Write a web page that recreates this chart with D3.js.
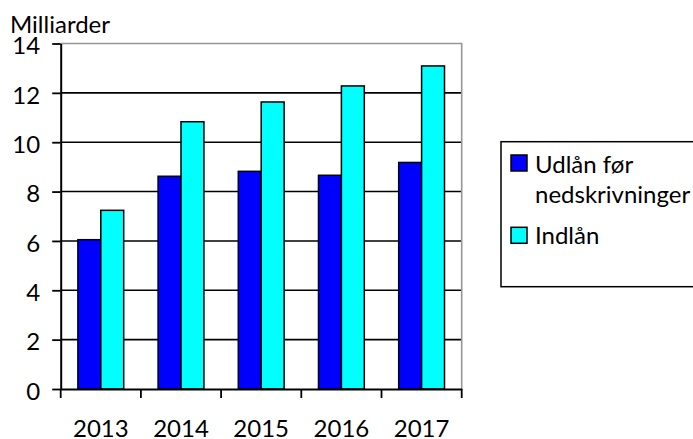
<!DOCTYPE html>
<html><head><meta charset="utf-8">
<script src="https://cdn.jsdelivr.net/npm/d3@7"></script>
<style>html,body{margin:0;padding:0;background:#fff;}svg{display:block;}text{font-family:Lato,"Open Sans",sans-serif;fill:#000;}</style>
</head><body>
<svg id="c" width="693" height="439"></svg>
<script>
const categories = ["2013","2014","2015","2016","2017"];
const udlan = [6.05, 8.62, 8.82, 8.66, 9.18];
const indlan = [7.24, 10.83, 11.63, 12.28, 13.09];
const seriesNames = ["Udlån før nedskrivninger","Indlån"];
const yTicks = [0,2,4,6,8,10,12,14];
const unitLabel = "Milliarder";

const svg = d3.select("#c");
const L = 60.7, R = 461.7, T = 43.5, B = 389;
const fs = 24;
const x = d3.scaleBand().domain(categories).range([L,R]).paddingInner(0).paddingOuter(0);
const y = d3.scaleLinear().domain([0,14]).range([B,T]);
const bw = x.bandwidth()/3.5;
const colors = ["#0000ff","#00ffff"];

// gridlines
svg.append("g").selectAll("line").data(yTicks.filter(d=>d>0&&d<14)).join("line")
  .attr("x1",L).attr("x2",R).attr("y1",d=>y(d)).attr("y2",d=>y(d))
  .attr("stroke","#000").attr("stroke-width",1.6);
// plot border top/right gray
svg.append("path").attr("d",`M${L},${T}H${R}V${B}`).attr("fill","none").attr("stroke","#969696").attr("stroke-width",1.6);

// bars
const data = [udlan, indlan];
data.forEach((vals,si)=>{
  svg.append("g").selectAll("rect").data(categories).join("rect")
    .attr("x",(d)=>x(d)+bw*0.75+si*bw)
    .attr("y",(d,i)=>y(vals[i]))
    .attr("width",bw).attr("height",(d,i)=>B-y(vals[i]))
    .attr("fill",colors[si]).attr("stroke","#000").attr("stroke-width",1.5);
});

// y axis
const ya = d3.axisLeft(y).tickValues(yTicks).tickSize(8.5).tickSizeOuter(0).tickPadding(12);
const yg = svg.append("g").attr("transform",`translate(${L},0)`).call(ya);
yg.select(".domain").attr("stroke","#000").attr("stroke-width",2);
yg.selectAll(".tick line").attr("stroke","#000").attr("stroke-width",1.8);
yg.selectAll(".tick text").attr("font-size",fs).attr("font-family","Lato").attr("dy","0.43em").attr("fill","#000");

// x axis
const xa = d3.axisBottom(x).tickSize(0).tickSizeOuter(0);
const xg = svg.append("g").attr("transform",`translate(0,${B})`).call(xa);
xg.select(".domain").attr("stroke","#000").attr("stroke-width",2);
xg.selectAll(".tick text").attr("font-size",fs).attr("font-family","Lato").attr("y",48).attr("dy",0).attr("fill","#000");
const xt = d3.scaleLinear().domain([0,categories.length]).range([L,R]);
svg.append("g").selectAll("line").data(d3.range(categories.length+1)).join("line")
  .attr("x1",d=>xt(d)).attr("x2",d=>xt(d)).attr("y1",B).attr("y2",B+9)
  .attr("stroke","#000").attr("stroke-width",1.8);

// unit label
svg.append("text").attr("x",10).attr("y",33).attr("font-size",fs).text(unitLabel);

// legend
svg.append("rect").attr("x",501).attr("y",141.7).attr("width",220).attr("height",145).attr("fill","#fff").attr("stroke","#000").attr("stroke-width",1.5);
const lg = [{c:colors[0],y:155,base:[173.3,203.3],lines:["Udlån før","nedskrivninger"]},{c:colors[1],y:227.3,base:[244],lines:["Indlån"]}];
lg.forEach(d=>{
  svg.append("rect").attr("x",511).attr("y",d.y).attr("width",16).attr("height",16).attr("fill",d.c).attr("stroke","#000").attr("stroke-width",1.5);
  d.lines.forEach((t,i)=>{
    svg.append("text").attr("x",535).attr("y",d.base[i]).attr("font-size",fs).text(t);
  });
});
</script>
</body></html>
